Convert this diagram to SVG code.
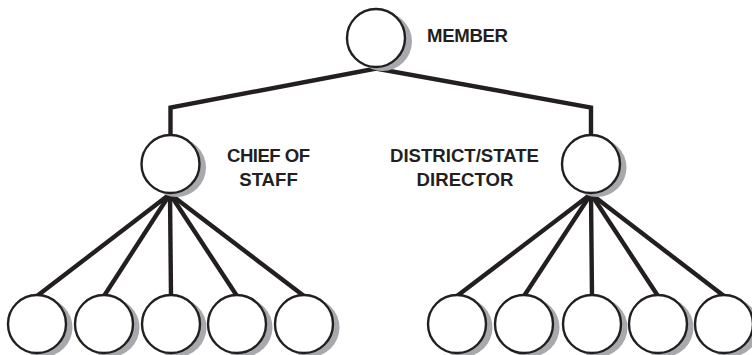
<svg xmlns="http://www.w3.org/2000/svg" width="752" height="355" viewBox="0 0 752 355">
<style>
.bg{fill:#ffffff}
.wire{fill:none;stroke:#231f20;stroke-width:4.4;stroke-linejoin:miter;stroke-linecap:butt}
.shadow{fill:#a7a9ac}
.node{fill:#ffffff;stroke:#231f20;stroke-width:2.4}
.lbl{font-family:"Liberation Sans",Arial,sans-serif;font-weight:bold;font-size:18.6px;fill:#231f20}
</style>
<rect class="bg" x="0" y="0" width="752" height="355"/>
<g id="connectors">
<polyline class="wire" points="170.5,136 170.5,107.5 376,68.5 591,107.5 591,136"/>
<line class="wire" x1="170" y1="194" x2="37" y2="296"/>
<line class="wire" x1="170" y1="194" x2="104" y2="296"/>
<line class="wire" x1="170" y1="194" x2="171" y2="296"/>
<line class="wire" x1="170" y1="194" x2="237" y2="296"/>
<line class="wire" x1="170" y1="194" x2="304" y2="296"/>
<line class="wire" x1="591" y1="194" x2="457" y2="296"/>
<line class="wire" x1="591" y1="194" x2="524" y2="296"/>
<line class="wire" x1="591" y1="194" x2="592" y2="296"/>
<line class="wire" x1="591" y1="194" x2="658" y2="296"/>
<line class="wire" x1="591" y1="194" x2="724" y2="296"/>
</g>
<g id="member">
<circle class="shadow" cx="382.5" cy="41.5" r="29.5"/>
<circle class="node" cx="376" cy="38" r="29"/>
<text class="lbl" x="427" y="41.5" textLength="81">MEMBER</text>
</g>
<g id="chief-of-staff">
<circle class="shadow" cx="176.5" cy="167.5" r="29.5"/>
<circle class="node" cx="170.5" cy="164" r="29"/>
<text class="lbl" x="268.5" y="162" text-anchor="middle" textLength="83">CHIEF OF</text>
<text class="lbl" x="268.5" y="185.5" text-anchor="middle">STAFF</text>
</g>
<g id="district-state-director">
<circle class="shadow" cx="597" cy="167.5" r="29.5"/>
<circle class="node" cx="591" cy="164" r="29"/>
<text class="lbl" x="464.5" y="162" text-anchor="middle" textLength="149">DISTRICT/STATE</text>
<text class="lbl" x="465" y="185.5" text-anchor="middle">DIRECTOR</text>
</g>
<g id="staff-1"><circle class="shadow" cx="43" cy="327.5" r="29.5"/><circle class="node" cx="37" cy="324" r="29"/></g>
<g id="staff-2"><circle class="shadow" cx="110" cy="327.5" r="29.5"/><circle class="node" cx="104" cy="324" r="29"/></g>
<g id="staff-3"><circle class="shadow" cx="177" cy="327.5" r="29.5"/><circle class="node" cx="171" cy="324" r="29"/></g>
<g id="staff-4"><circle class="shadow" cx="243" cy="327.5" r="29.5"/><circle class="node" cx="237" cy="324" r="29"/></g>
<g id="staff-5"><circle class="shadow" cx="310" cy="327.5" r="29.5"/><circle class="node" cx="304" cy="324" r="29"/></g>
<g id="district-1"><circle class="shadow" cx="463" cy="327.5" r="29.5"/><circle class="node" cx="457" cy="324" r="29"/></g>
<g id="district-2"><circle class="shadow" cx="530" cy="327.5" r="29.5"/><circle class="node" cx="524" cy="324" r="29"/></g>
<g id="district-3"><circle class="shadow" cx="598" cy="327.5" r="29.5"/><circle class="node" cx="592" cy="324" r="29"/></g>
<g id="district-4"><circle class="shadow" cx="664" cy="327.5" r="29.5"/><circle class="node" cx="658" cy="324" r="29"/></g>
<g id="district-5"><circle class="shadow" cx="730" cy="327.5" r="29.5"/><circle class="node" cx="724" cy="324" r="29"/></g>
</svg>
